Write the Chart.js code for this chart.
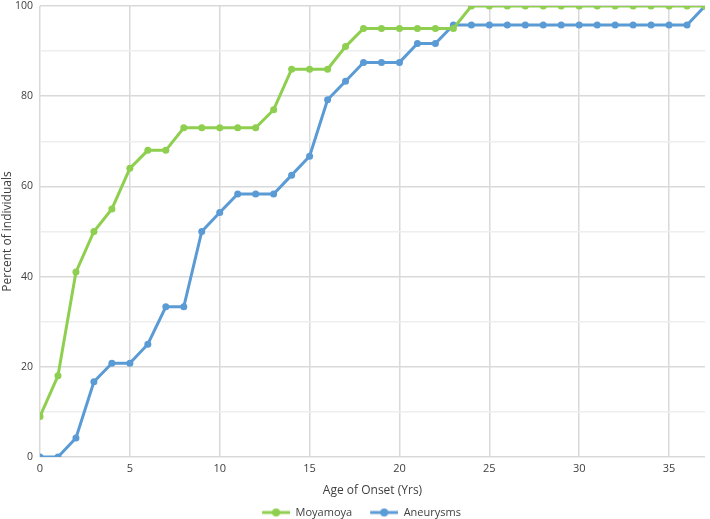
<!DOCTYPE html>
<html>
<head>
<meta charset="utf-8">
<script src="https://cdn.jsdelivr.net/npm/chart.js@4/dist/chart.umd.min.js"></script>
<style>
  html, body { margin: 0; padding: 0; background: #fff; }
  #wrap { width: 710px; height: 519px; position: relative; }
</style>
</head>
<body>
<div id="wrap"><canvas id="chart"></canvas></div>
<script>
Chart.defaults.font.family = "'Open Sans', sans-serif";
Chart.defaults.color = '#404040';

const ages = [0,1,2,3,4,5,6,7,8,9,10,11,12,13,14,15,16,17,18,19,20,21,22,23,24,25,26,27,28,29,30,31,32,33,34,35,36,37];
const moyamoya = [9,18,41,50,55,64,68,68,73,73,73,73,73,77,86,86,86,91,95,95,95,95,95,95,100,100,100,100,100,100,100,100,100,100,100,100,100,100];
const aneurysms = [0,0,4.2,16.7,20.8,20.8,25,33.3,33.3,50,54.2,58.3,58.3,58.3,62.5,66.7,79.2,83.3,87.5,87.5,87.5,91.7,91.7,95.8,95.8,95.8,95.8,95.8,95.8,95.8,95.8,95.8,95.8,95.8,95.8,95.8,95.8,100];
const xTicks = [0,5,10,15,20,25,30,35];

const GREEN = '#8fcf4f';
const BLUE = '#5b9bd5';

// legend marker: blank gap on the left, then line with a dot
function legendIcon(color) {
    const c = document.createElement('canvas');
    c.width = 46; c.height = 10;
    const g = c.getContext('2d');
    g.strokeStyle = color; g.lineWidth = 3;
    g.beginPath(); g.moveTo(18, 5); g.lineTo(46, 5); g.stroke();
    g.fillStyle = color;
    g.beginPath(); g.arc(32, 5, 4, 0, Math.PI * 2); g.fill();
    return c;
}

const toPts = (arr) => arr.map((v, i) => ({ x: ages[i], y: v }));

new Chart(document.getElementById('chart'), {
    type: 'line',
    data: {
        datasets: [
            { label: 'Moyamoya', data: toPts(moyamoya), borderColor: GREEN, backgroundColor: GREEN, borderWidth: 3, pointRadius: 3.5, pointBorderWidth: 0, tension: 0 },
            { label: 'Aneurysms', data: toPts(aneurysms), borderColor: BLUE, backgroundColor: BLUE, borderWidth: 3, pointRadius: 3.5, pointBorderWidth: 0, tension: 0 }
        ]
    },
    options: {
        responsive: true, maintainAspectRatio: false, animation: false,
        layout: { padding: { left: 0, right: 5, top: 0, bottom: -9 } },
        scales: {
            x: {
                type: 'linear', min: 0, max: 37,
                afterBuildTicks: (axis) => { axis.ticks = xTicks.map(v => ({ value: v })); },
                afterFit: (axis) => { axis.height = 50; },
                border: { display: false },
                grid: { color: '#d9d9d9', lineWidth: 1.5, drawTicks: false },
                ticks: { padding: 5, font: { size: 11 }, color: '#404040' },
                title: { display: true, text: 'Age of Onset (Yrs)', font: { size: 12 }, color: '#404040', padding: { top: 3, bottom: 9 } }
            },
            y: {
                min: 0, max: 100,
                afterFit: (axis) => { axis.width = 40; axis.paddingTop = 6; axis.paddingBottom = 6; },
                border: { display: false },
                grid: { color: (c) => (c.tick && c.tick.value % 20 === 0) ? '#d9d9d9' : '#eeeeee', lineWidth: 1.5, drawTicks: false },
                ticks: { stepSize: 10, padding: 7, font: { size: 10.5 }, color: '#404040', callback: (v) => v % 20 === 0 ? v : '' },
                title: { display: true, text: 'Percent of individuals', font: { size: 12 }, color: '#404040', padding: { top: 0, bottom: 2 } }
            }
        },
        plugins: {
            legend: {
                position: 'bottom',
                labels: {
                    usePointStyle: true, pointStyleWidth: 46, padding: 0, font: { size: 11 }, color: '#404040',
                    generateLabels: (chart) => chart.data.datasets.map((ds, i) => ({
                        text: ds.label, pointStyle: legendIcon(ds.borderColor), fillStyle: ds.borderColor,
                        strokeStyle: ds.borderColor, lineWidth: 0, hidden: false, datasetIndex: i, fontColor: '#404040'
                    }))
                }
            },
            tooltip: { enabled: false }
        }
    }
});
</script>
</body>
</html>
